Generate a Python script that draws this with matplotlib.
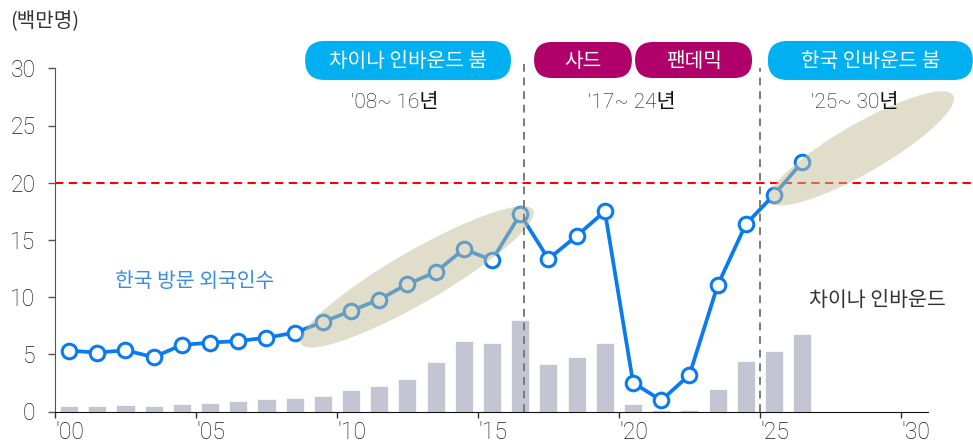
import numpy as np
import matplotlib
matplotlib.use('Agg')
import matplotlib.pyplot as plt
from matplotlib.patches import Ellipse, FancyBboxPatch
from matplotlib.transforms import Affine2D

plt.rcParams['font.family'] = ['Roboto', 'Noto Sans CJK KR', 'DejaVu Sans']
plt.rcParams['font.weight'] = 'light'

# 데이터 (백만명)
years = np.arange(2000, 2027)
visitors = [5.32, 5.15, 5.35, 4.75, 5.82, 6.02, 6.16, 6.45, 6.89, 7.82,
            8.80, 9.79, 11.14, 12.18, 14.20, 13.23, 17.24, 13.33, 15.35, 17.50,
            2.52, 0.97, 3.20, 11.03, 16.37, 18.95, 21.80]
china = [0.44, 0.48, 0.54, 0.51, 0.63, 0.71, 0.90, 1.07, 1.17, 1.34,
         1.88, 2.22, 2.84, 4.33, 6.13, 5.98, 8.02, 4.17, 4.79, 6.02,
         0.64, 0.15, 0.10, 1.98, 4.40, 5.25, 6.80]
xtick_years = [2000, 2005, 2010, 2015, 2020, 2025, 2030]
xtick_labels = ["'00", "'05", "'10", "'15", "'20", "'25", "'30"]
yticks = [0, 5, 10, 15, 20, 25, 30]
target = 20
splits = [2016.64, 2025.0]

blue = '#0A7BEE'
cyan = '#00B0F0'
magenta = '#B0006A'
kr = ['Noto Sans CJK KR']

fig = plt.figure(figsize=(9.73, 4.45), dpi=100)
ax = fig.add_axes([55/973, 33.5/445, 873/973, 343.2/445])
x = years + 0.5

ax.bar(x, china, width=0.64, color='#C3C5D2', edgecolor='white', linewidth=0.5, zorder=1)
ax.plot(x, visitors, color=blue, lw=2.7, marker='o', ms=10.5, mfc='white',
        mec=blue, mew=2.2, zorder=3)

ax.set_xlim(2000, 2030.96)
ax.set_ylim(0, 30)

# 목표선
hl, = ax.plot([2000, 2032.6], [target, target], color='#FF0000', lw=1.5, zorder=2, clip_on=False)
hl.set_dashes([4, 2.6])

for s, top in zip(splits, [30.45, 30.0]):
    vl, = ax.plot([s, s], [0, top], color='#7A7A7A', lw=1.4, zorder=5, clip_on=False)
    vl.set_dashes([4, 3])

# 타원 (픽셀 단위로 그린 뒤 데이터 좌표로 변환)
p0 = ax.transData.transform((2000, 0))
p1 = ax.transData.transform((2001, 1))
sx, sy = p1[0] - p0[0], p1[1] - p0[1]
for cx, cy, w, h in [(2012.84, 11.77, 268, 52), (2028.6, 23.0, 212, 49)]:
    e = Ellipse((0, 0), w, h, angle=30,
                transform=Affine2D().scale(1/sx, 1/sy).translate(cx, cy) + ax.transData,
                facecolor=(195/255, 190/255, 152/255), alpha=0.5, edgecolor='none',
                zorder=4, clip_on=False)
    ax.add_patch(e)

# 구간 말풍선
bubbles = [('차이나 인바운드 붐', 2008.87, 2016.17, 28.98, 32.39, cyan),
           ('사드', 2016.99, 2020.46, 29.15, 32.30, magenta),
           ('팬데믹', 2020.57, 2024.72, 29.15, 32.30, magenta),
           ('한국 인바운드 붐', 2025.28, 2032.55, 28.98, 32.39, cyan)]
asp = sx / sy
for txt, x0, x1, y0, y1, c in bubbles:
    h = y1 - y0
    r = h / 2 / asp
    b = FancyBboxPatch((x0, y0), x1 - x0, h,
                       boxstyle=f'round,pad=0,rounding_size={r}',
                       mutation_aspect=asp, facecolor=c, edgecolor='none',
                       clip_on=False, zorder=6)
    ax.add_patch(b)
    ax.text((x0 + x1) / 2, (y0 + y1) / 2 - 0.1, txt, color='white', fontsize=14.6,
            family=kr, ha='center', va='center', zorder=7)

for txt, tx in [("'08~ 16년", 2012.06), ("'17~ 24년", 2020.46), ("'25~ 30년", 2028.37)]:
    ax.text(tx, 27.0, txt, fontsize=15, color='#111111', ha='center', va='center', zorder=7)

ax.text(2004.96, 11.4, '한국 방문 외국인수', color='#3A8DDE', fontsize=14.7,
        family=kr, ha='center', va='center')
ax.text(2029.15, 9.75, '차이나 인바운드', color='#333333', fontsize=14.8,
        family=kr, ha='center', va='center')
fig.text(10/973, 1 - 22/445, '(백만명)', fontsize=14.5, color='#333333',
         family=kr, ha='left', va='center')

# 축
for side in ['top', 'right']:
    ax.spines[side].set_visible(False)
ax.spines['left'].set_color('#555555')
ax.spines['bottom'].set_color('#111111')
ax.set_yticks(yticks)
ax.set_xticks(xtick_years)
ax.set_xticklabels(xtick_labels, ha='left')
ax.tick_params(axis='y', length=5, width=1, color='#555555', labelsize=16.5,
               labelcolor='#1A1A1A', pad=9)
ax.tick_params(axis='x', length=4.5, width=1, color='#333333', labelsize=16.5,
               labelcolor='#1A1A1A', pad=2)

fig.savefig('out.png', dpi=100)
